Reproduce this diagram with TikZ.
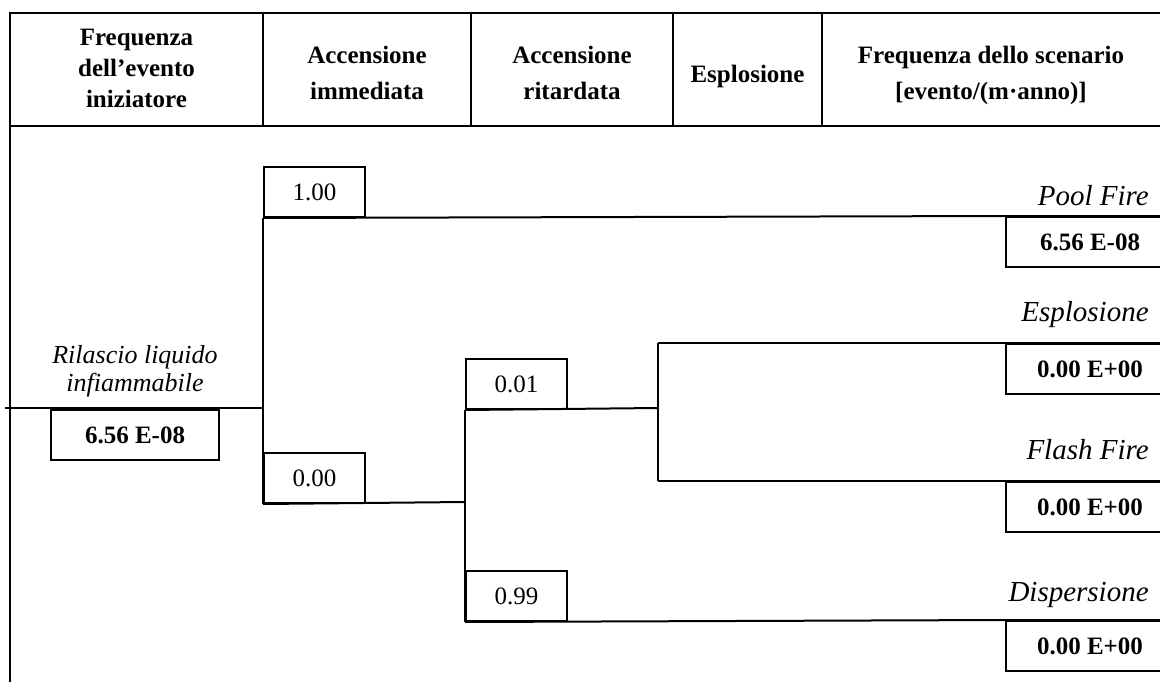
\documentclass[tikz,border=0pt]{standalone}
\usepackage{fontspec}
\setmainfont{Liberation Serif}
\newcommand{\evtfont}{\fontsize{25}{31}\selectfont}
\newcommand{\outfont}{\fontsize{29}{35}\selectfont}
\begin{document}
\begin{tikzpicture}[x=1pt, y=-1pt, line width=2pt,
    head/.style={font=\evtfont\bfseries, align=center},
    prob/.style={draw, font=\evtfont, minimum width=101pt, minimum height=50pt, inner sep=0pt, anchor=north west},
    freq/.style={draw, font=\evtfont\bfseries, minimum width=168pt, minimum height=50pt, inner sep=0pt, anchor=north west},
    outcome/.style={font=\outfont\itshape, anchor=base east},
    frame/.style={line width=2.6pt}]
  \useasboundingbox (0,0) rectangle (1160,682);
  \clip (0,0) rectangle (1160,682);
  %Table frame with the header row
  \draw [frame] (10,685) -- (10,13) -- (1165,13);
  \draw [frame] (10,126) -- (1165,126);
  \foreach \x in {263,471,673,822}
    \draw [frame] (\x,13) -- (\x,126);
  \node at (136.5,68) [head, name=hinit] {Frequenza\\dell’evento\\iniziatore};
  \node at (367,73) [head, name=himm] {Accensione\\[5pt]immediata};
  \node at (572,73) [head, name=hdel] {Accensione\\[5pt]ritardata};
  \node at (747.5,76) [head, name=hexp] {Esplosione};
  \node at (991,75) [head, name=hfreq] {Frequenza dello scenario\\[5pt]{[evento/(m·anno)]}};
  % Initiating event
  \coordinate (start) at (5,408);
  \coordinate (fork1) at (263,408);
  \node at (135,371) [font=\fontsize{26}{31}\selectfont\itshape, align=center, name=init] {Rilascio liquido\\[-3pt]infiammabile};
  \node at (50,409) [freq, name=finit] {6.56 E-08};
  % Immediate ignition
  \node at (263,166) [prob, name=pimm] {1.00};
  \node at (263,452) [prob, name=pnoimm] {0.00};
  % Delayed ignition
  \coordinate (fork2) at (465,502);
  \node at (465,358) [prob, name=pdel] {0.01};
  \node at (465,570) [prob, name=pnodel] {0.99};
  % Explosion or flash fire
  \coordinate (fork3) at (658,408);
  \coordinate (bexp) at (658,343);
  \coordinate (bflash) at (658,481);
  % Scenario frequencies
  \node at (1005,216) [freq, name=fpool] {6.56 E-08};
  \node at (1005,343) [freq, name=fexp] {0.00 E+00};
  \node at (1005,481) [freq, name=fflash] {0.00 E+00};
  \node at (1005,620) [freq, name=fdisp] {0.00 E+00};
  \node at (1153,205) [outcome, name=opool] {Pool Fire};
  \node at (1153,321) [outcome, name=oexp] {Esplosione};
  \node at (1153,459) [outcome, name=oflash] {Flash Fire};
  \node at (1153,601) [outcome, name=odisp] {Dispersione};
  % Branches
  \draw (start) -- (fork1);
  \draw (pimm.south west) -- (pnoimm.south west);
  \draw (pimm.south west) -- (fpool.north west) -- (fpool.north east);
  \draw (pnoimm.south west) -- (fork2);
  \draw (pdel.south west) -- (pnodel.south west);
  \draw (pdel.south west) -- (fork3);
  \draw (bexp) -- (bflash);
  \draw (bexp) -- (fexp.north west) -- (fexp.north east);
  \draw (bflash) -- (fflash.north west) -- (fflash.north east);
  \draw (pnodel.south west) -- (fdisp.north west) -- (fdisp.north east);
\end{tikzpicture}
\end{document}
